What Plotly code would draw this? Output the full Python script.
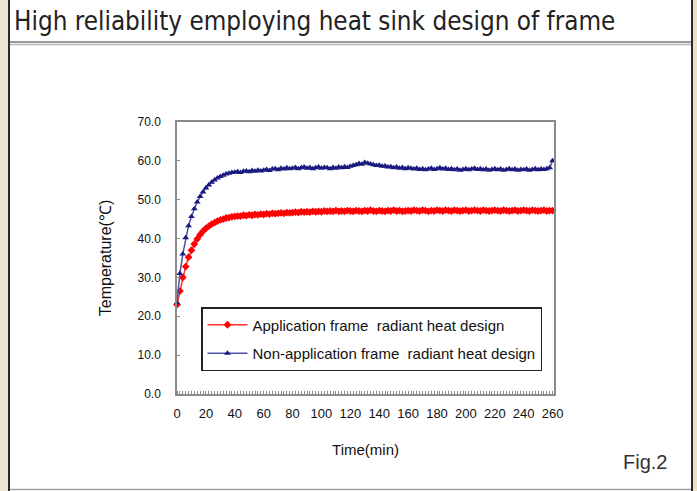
import plotly.graph_objects as go

time_min = list(range(0, 261, 2))

app_frame = [
    23.0, 26.5, 30.0, 32.8, 35.2, 37.0, 38.6, 39.9, 41.0, 41.9,
    42.6, 43.2, 43.7, 44.1, 44.5, 44.8, 45.0, 45.3, 45.4, 45.6,
    45.7, 45.8, 45.8, 46.0, 45.9, 46.1, 46.0, 46.2, 46.1, 46.3,
    46.2, 46.4, 46.3, 46.5, 46.4, 46.5, 46.6, 46.5, 46.7, 46.6,
    46.7, 46.8, 46.7, 46.9, 46.8, 46.9, 46.8, 47.0, 46.9, 47.0,
    46.9, 47.1, 47.0, 47.1, 47.0, 47.2, 47.0, 47.1, 47.0, 47.2,
    47.1, 47.0, 47.2, 47.1, 47.0, 47.2, 47.1, 47.3, 47.1, 47.0,
    47.2, 47.1, 47.0, 47.2, 47.1, 47.3, 47.1, 47.2, 47.0, 47.1,
    47.2, 47.1, 47.3, 47.2, 47.1, 47.3, 47.2, 47.0, 47.2, 47.1,
    47.3, 47.2, 47.1, 47.3, 47.2, 47.1, 47.3, 47.2, 47.1, 47.2,
    47.3, 47.1, 47.2, 47.3, 47.2, 47.1, 47.3, 47.2, 47.1, 47.2,
    47.3, 47.2, 47.1, 47.3, 47.2, 47.1, 47.2, 47.3, 47.1, 47.2,
    47.3, 47.2, 47.1, 47.3, 47.2, 47.1, 47.2, 47.3, 47.1, 47.2,
    47.2,
]

non_app_frame = [
    23.5, 31.0, 36.0, 40.2, 43.3, 45.7, 47.7, 49.4, 50.8, 52.0,
    53.0, 53.8, 54.5, 55.1, 55.6, 56.0, 56.3, 56.6, 56.8, 57.0,
    57.1, 57.2, 57.0, 57.3, 57.4, 57.2, 57.5, 57.3, 57.6, 57.4,
    57.6, 57.8, 57.5, 57.9, 58.0, 57.7, 58.1, 57.9, 58.2, 58.0,
    58.1, 58.3, 58.0, 58.2, 58.4, 58.1, 58.3, 58.0, 58.2, 58.4,
    58.1, 58.3, 58.2, 58.0, 58.3, 58.1, 58.4, 58.2, 58.5, 58.3,
    58.6, 58.8, 59.0, 59.3, 59.1, 59.6, 59.4, 59.2, 59.0, 58.8,
    58.9, 58.6, 58.7, 58.4, 58.5, 58.2, 58.4, 58.1, 58.3, 58.0,
    58.2, 58.1, 57.9, 58.1, 57.8, 58.0, 57.7, 57.9, 58.1, 57.8,
    58.0, 58.2, 57.9, 58.1, 57.8, 58.0, 57.7, 57.9, 57.6, 57.8,
    58.0, 57.7, 57.9, 58.1, 57.8, 58.0, 57.7, 57.9, 57.6, 57.8,
    58.0, 57.7, 57.9, 57.6, 57.8, 58.0, 57.7, 57.9, 57.6, 57.8,
    57.7, 57.9, 57.6, 57.8, 58.0, 57.7, 57.9, 57.8, 58.0, 58.2,
    60.0,
]

y_ticks = [0, 10, 20, 30, 40, 50, 60, 70]
y_tick_text = ["0.0", "10.0", "20.0", "30.0", "40.0", "50.0", "60.0", "70.0"]
x_ticks = list(range(0, 261, 20))

W, H = 697, 491
L, R, T, B = 177, 554, 122, 394
PW, PH = R - L, B - T


def px(x):
    return (x - L) / PW


def py(y):
    return (B - y) / PH


TICKFONT = "Liberation Sans, Arial, sans-serif"

fig = go.Figure()
fig.add_trace(go.Scatter(
    x=time_min, y=app_frame, mode="lines+markers",
    name="Application frame  radiant heat design",
    line=dict(color="#ff3030", width=1.5),
    marker=dict(symbol="diamond", size=6, color="#ff0000"),
    cliponaxis=False, legendgroup="a",
))
fig.add_trace(go.Scatter(
    x=time_min, y=non_app_frame, mode="lines+markers",
    name="Non-application frame  radiant heat design",
    line=dict(color="#5050a8", width=1.5),
    marker=dict(symbol="triangle-up", size=6, color="#1a1a80"),
    cliponaxis=False, legendgroup="b",
))

shapes = []
shapes.append(dict(type="rect", xref="paper", yref="paper", x0=px(0), x1=px(8), y0=py(0), y1=py(H),
                   fillcolor="#efe4d3", line=dict(width=0), layer="below"))
shapes.append(dict(type="rect", xref="paper", yref="paper", x0=px(693), x1=px(W), y0=py(0), y1=py(H),
                   fillcolor="#efe0c4", line=dict(width=0), layer="below"))
shapes.append(dict(type="line", xref="paper", yref="paper", x0=px(9), x1=px(9), y0=py(0), y1=py(H),
                   line=dict(color="#2a2a2a", width=2)))
shapes.append(dict(type="line", xref="paper", yref="paper", x0=px(692), x1=px(692), y0=py(0), y1=py(H),
                   line=dict(color="#2a2a2a", width=2)))
shapes.append(dict(type="line", xref="paper", yref="paper", x0=px(10), x1=px(691), y0=py(42), y1=py(42),
                   line=dict(color="#9a9a9a", width=2)))
shapes.append(dict(type="line", xref="paper", yref="paper", x0=px(10), x1=px(691), y0=py(44.5), y1=py(44.5),
                   line=dict(color="#b8b8b8", width=1.5)))
shapes.append(dict(type="line", xref="paper", yref="paper", x0=px(10), x1=px(691), y0=py(489.5), y1=py(489.5),
                   line=dict(color="#a0a0a0", width=1.5)))

fig.update_layout(
    width=W, height=H,
    margin=dict(l=L, r=W - R, t=T, b=H - B, pad=0),
    paper_bgcolor="white", plot_bgcolor="white",
    font=dict(family=TICKFONT, color="#111111", size=12),
    showlegend=True,
    legend=dict(
        x=px(201), y=py(307), xanchor="left", yanchor="top",
        bordercolor="#222222", borderwidth=1.5, bgcolor="white",
        font=dict(size=15, family=TICKFONT, color="#111"),
        itemwidth=40, tracegroupgap=6, traceorder="grouped",
    ),
    xaxis=dict(
        range=[0, 261], tickmode="array", tickvals=x_ticks, ticks="",
        showline=True, linecolor="#8a8a8a", linewidth=1.5, mirror=True,
        showgrid=False, zeroline=False, ticklabelstandoff=7,
        tickfont=dict(size=13, family=TICKFONT),
        minor=dict(ticks="inside", dtick=2, ticklen=3, tickcolor="#8a8a8a", showgrid=False),
        title=dict(text="Time(min)", standoff=24, font=dict(size=15, family=TICKFONT)),
    ),
    yaxis=dict(
        range=[0, 70], tickmode="array", tickvals=y_ticks, ticktext=y_tick_text,
        ticks="inside", ticklen=3, tickcolor="#8a8a8a",
        showline=True, linecolor="#8a8a8a", linewidth=1.5, mirror=True,
        showgrid=False, zeroline=False, ticklabelstandoff=12,
        tickfont=dict(size=12, family=TICKFONT),
        title=dict(text="Temperature(℃)", standoff=22, font=dict(size=16, family=TICKFONT)),
    ),
    shapes=shapes,
    annotations=[
        dict(text="High reliability employing heat sink design of frame", xref="paper", yref="paper",
             x=px(12), y=py(21), xanchor="left", yanchor="middle", showarrow=False,
             font=dict(family="DejaVu Sans Condensed, DejaVu Sans", size=25.8, color="#222222")),
        dict(text="Fig.2", xref="paper", yref="paper",
             x=px(669), y=py(462), xanchor="right", yanchor="middle", showarrow=False,
             font=dict(family=TICKFONT, size=20, color="#333333")),
    ],
)

fig.write_html("out.html", config={"displayModeBar": False},
               post_script="document.body.style.margin='0';document.body.style.overflow='hidden';")
